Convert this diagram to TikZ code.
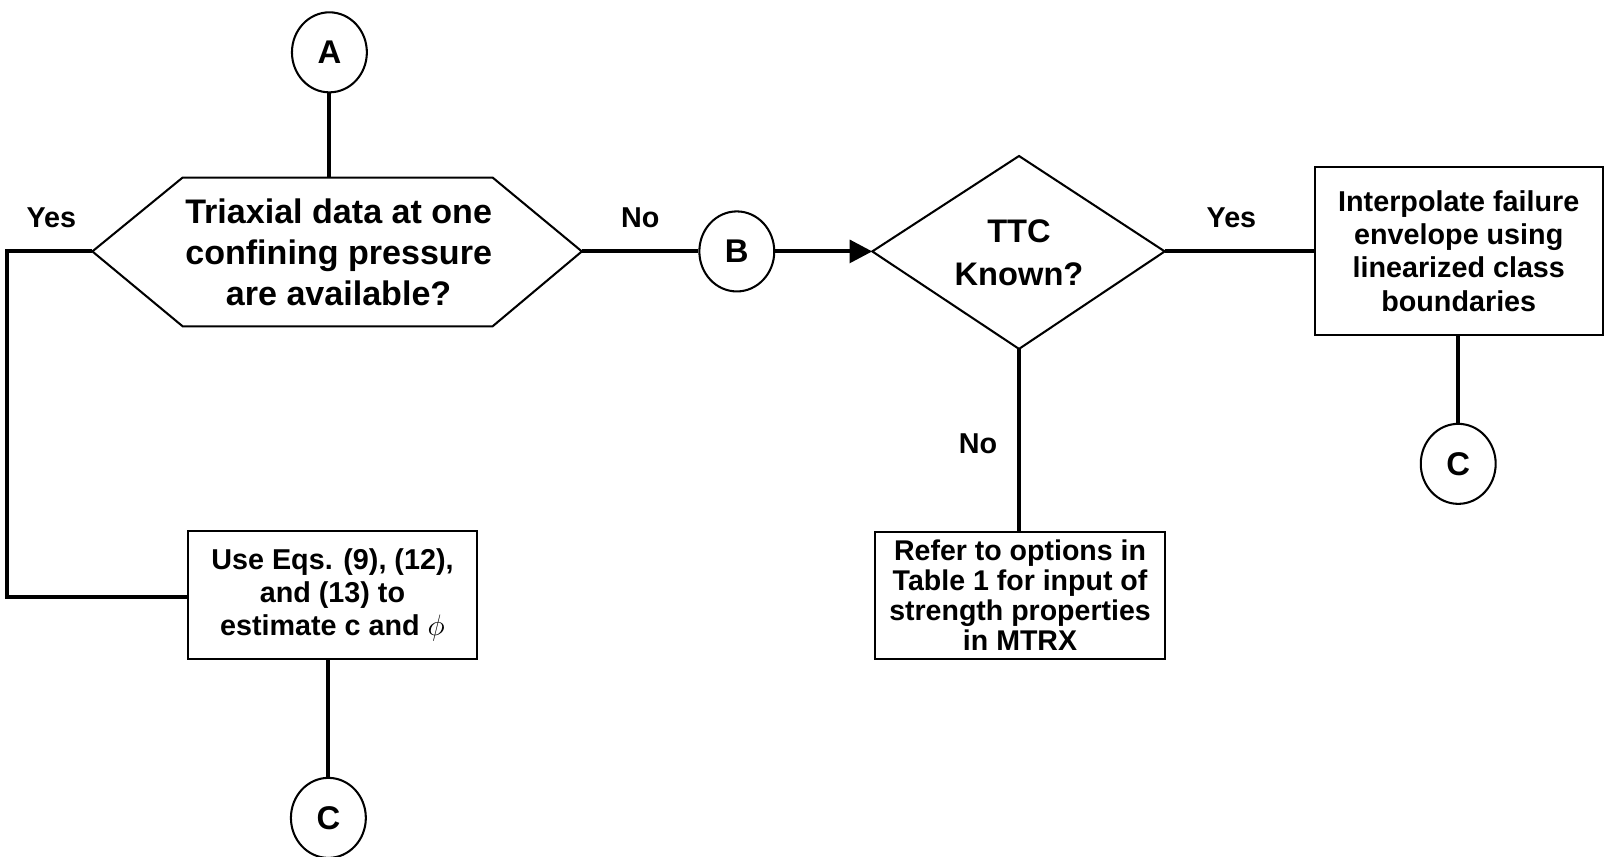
\documentclass[tikz,border=0pt]{standalone}
\usepackage{fontspec}
\setmainfont{Liberation Sans}
\usetikzlibrary{arrows.meta,shapes.geometric}
\begin{document}
\begin{tikzpicture}[x=0.5pt,y=-0.5pt,
  conn/.style={line width=2pt},
  outline/.style={line width=1pt},
  connector/.style={ellipse,draw,line width=1pt,minimum width=36.5pt,minimum height=39pt,inner sep=0pt,font=\bfseries\fontsize{16}{19}\selectfont},
  bigtxt/.style={align=center,font=\bfseries\fontsize{16.6}{20}\selectfont},
  boxtxt/.style={draw,line width=1pt,align=center,inner sep=0pt,minimum width=141pt,font=\bfseries\fontsize{14}{16.2}\selectfont},
  lbl/.style={font=\bfseries\fontsize{14}{17}\selectfont}]
\useasboundingbox (0,0) rectangle (1565,835);
% connectors circles
\node[connector] (A) at (321,51) {A};
\node[connector] (B) at (718,245) {B};
\node[connector] (C1) at (320,797) {C};
\node[connector] (C2) at (1421,452) {C};
% hexagon decision
\draw[outline] (90,245) -- (178,173) -- (480,173) -- (567,245) -- (480,318) -- (178,318) -- cycle;
\node[bigtxt] (q1) at (330,246) {Triaxial data at one\\confining pressure\\are available?};
\coordinate (q1n) at (321,173);
\coordinate (q1w) at (90,245);
\coordinate (q1e) at (567,245);
% diamond decision
\draw[outline] (850,245) -- (993,152) -- (1135,245) -- (993,340) -- cycle;
\node[bigtxt,font=\bfseries\fontsize{15.9}{21}\selectfont] (q2) at (993,246) {TTC\\Known?};
\coordinate (q2w) at (850,245);
\coordinate (q2e) at (1135,245);
\coordinate (q2s) at (993,340);
% boxes
\node[boxtxt,minimum height=62.5pt] (eqs) at (324,580) {Use Eqs. (9), (12),\\and (13) to\\estimate c and $\phi$};
\node[boxtxt,minimum height=62pt,font=\bfseries\fontsize{13.9}{14.6}\selectfont] (refer) at (994,580) {Refer to options in\\Table 1 for input of\\strength properties\\in MTRX};
\node[boxtxt,minimum height=81.5pt,minimum width=140.5pt] (interp) at (1421.5,244.5) {Interpolate failure\\envelope using\\linearized class\\boundaries};
% corner coordinate
\coordinate (corner1) at (7,245);
\coordinate (corner2) at (7,582);
% lines
\draw[conn] (A) -- (q1n);
\draw[conn] (q1w) -- (corner1) -- (corner2) -- (corner2 -| eqs.west);
\draw[conn] (q1e) -- (B);
\draw[conn,-{Triangle[length=11pt,width=11pt]}] (B) -- (q2w);
\draw[conn] (q2e) -- (q2e -| interp.west);
\draw[conn] (q2s) -- (q2s |- refer.north);
\draw[conn] (eqs.south -| C1) -- (C1);
\draw[conn] (interp.south -| C2) -- (C2);
% labels
\node[lbl] (yes1) at (50,212) {Yes};
\node[lbl] (no1) at (624,212) {No};
\node[lbl] (yes2) at (1200,212) {Yes};
\node[lbl] (no2) at (953,432) {No};
\end{tikzpicture}
\end{document}
